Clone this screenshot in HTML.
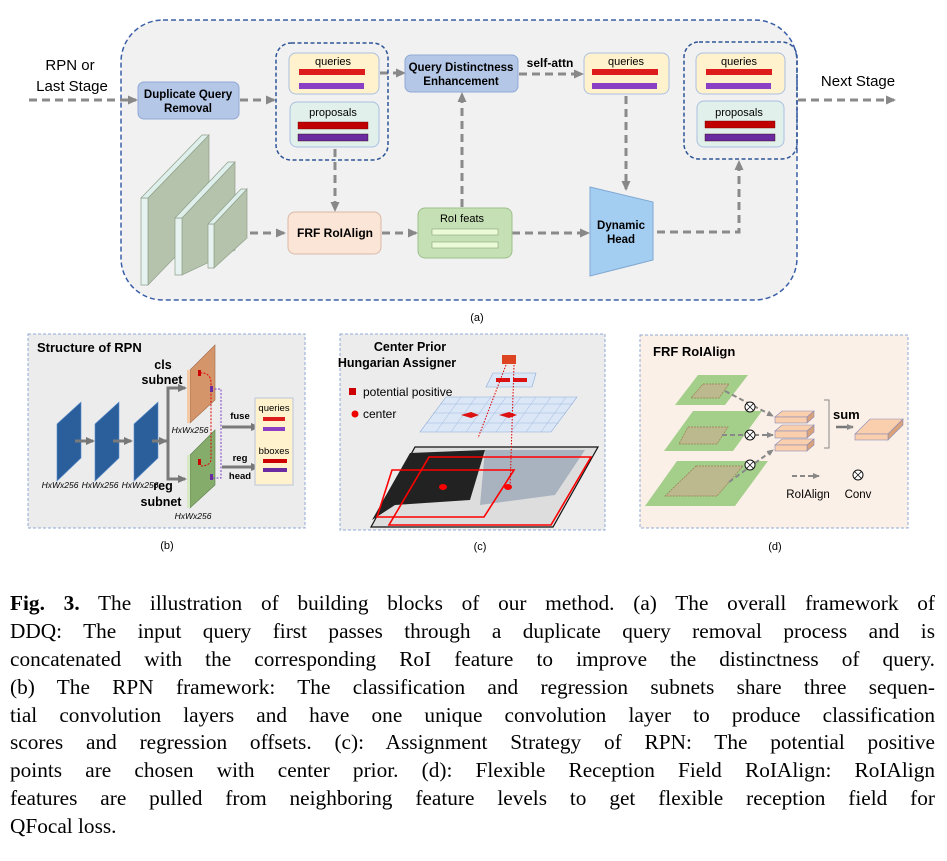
<!DOCTYPE html>
<html><head><meta charset="utf-8"><style>
body{margin:0;width:947px;height:861px;background:#fff;overflow:hidden;position:relative}
svg{position:absolute;left:0;top:0}
.cap{position:absolute;left:10px;width:925px;font-family:"Liberation Serif",serif;font-size:21.3px;color:#000;line-height:27.9px;top:590px}
.cap div{text-align:justify;text-align-last:justify;white-space:nowrap;height:27.9px}
.cap div.l{text-align-last:left}
</style></head><body>
<svg width="947" height="590" viewBox="0 0 947 590" font-family="Liberation Sans, sans-serif">
<defs>
<marker id="a" markerWidth="12" markerHeight="12" refX="8" refY="6" orient="auto" markerUnits="userSpaceOnUse"><path d="M0,1.5L10,6L0,10.5z" fill="#888"/></marker>
<marker id="b" markerWidth="10" markerHeight="10" refX="7" refY="5" orient="auto" markerUnits="userSpaceOnUse"><path d="M0,1L9,5L0,9z" fill="#777"/></marker>
<marker id="c" markerWidth="8" markerHeight="8" refX="6" refY="4" orient="auto" markerUnits="userSpaceOnUse"><path d="M0,1L7,4L0,7z" fill="#888"/></marker>
</defs>
<rect x="121" y="20" width="676" height="280" rx="42" fill="#f1f1f1" stroke="#3b5ea8" stroke-width="1.5" stroke-dasharray="5,3"/>
<text x="70" y="70" font-size="15" text-anchor="middle">RPN or</text>
<text x="72" y="91" font-size="15" text-anchor="middle">Last Stage</text>
<g stroke="#8a8a8a" stroke-width="3" stroke-dasharray="8,5" fill="none" marker-end="url(#a)">
<path d="M29,100H136"/><path d="M240,100H274"/><path d="M335,149V210"/><path d="M250,233H284"/><path d="M382,233H416"/>
<path d="M462,207V94"/><path d="M380,73H404"/><path d="M519,74H582"/><path d="M626,96V189"/><path d="M512,233H588"/>
<path d="M657,232H739V162"/><path d="M798,100H894"/>
</g>
<rect x="138" y="82" width="101" height="37" rx="6" fill="#b4c7e7" stroke="#8fa9d5"/>
<text x="188" y="98" font-size="11.5" font-weight="bold" text-anchor="middle">Duplicate Query</text>
<text x="188" y="112" font-size="11.5" font-weight="bold" text-anchor="middle">Removal</text>
<rect x="276" y="43" width="112" height="117" rx="15" fill="none" stroke="#2f5597" stroke-width="1.5" stroke-dasharray="4,2.5"/>
<rect x="289" y="53" width="90" height="41" rx="7" fill="#fff2cc" stroke="#a9bfe0"/>
<text x="333" y="65" font-size="11" text-anchor="middle">queries</text>
<rect x="299" y="69" width="66" height="6" fill="#dd1c1c"/><rect x="299" y="83" width="65" height="6" fill="#8a3fc4"/>
<rect x="290" y="102" width="89" height="45" rx="7" fill="#e2f0ec" stroke="#a9bfe0"/>
<text x="333" y="116" font-size="11" text-anchor="middle">proposals</text>
<rect x="298" y="122" width="70" height="7" fill="#c00000" stroke="#600" stroke-width=".4"/><rect x="298" y="134" width="70" height="7" fill="#6a2aa0" stroke="#300" stroke-width=".4"/>
<g fill="#b5c3ac" stroke="#8fa08a" stroke-width=".7">
<path d="M148,198L209,135V222L148,285Z"/><path d="M141,198L148,198V285L141,285Z" fill="#e5f2f0"/><path d="M141,198L202,135H209L148,198Z" fill="#dff0ec"/>
<path d="M182,218L235,162V250L182,275Z"/><path d="M175,218H182V275H175Z" fill="#e5f2f0"/><path d="M175,218L228,162H235L182,218Z" fill="#dff0ec"/>
<path d="M214,224L247,189V238L214,268Z"/><path d="M208,224H214V268H208Z" fill="#e5f2f0"/><path d="M208,224L241,189H247L214,224Z" fill="#dff0ec"/>
</g>
<rect x="288" y="212" width="93" height="42" rx="7" fill="#fbe5d6" stroke="#d9b9a6"/>
<text x="335" y="237" font-size="12" font-weight="bold" text-anchor="middle">FRF RoIAlign</text>
<rect x="418" y="208" width="94" height="50" rx="7" fill="#c5e0b4" stroke="#9dbf8c"/>
<text x="462" y="222" font-size="11" text-anchor="middle">RoI feats</text>
<rect x="432" y="229" width="66" height="6" fill="#eafbd8" stroke="#8aa07a" stroke-width=".6"/><rect x="432" y="242" width="66" height="6" fill="#eafbd8" stroke="#8aa07a" stroke-width=".6"/>
<rect x="405" y="55" width="113" height="37" rx="6" fill="#b4c7e7" stroke="#8fa9d5"/>
<text x="461" y="71" font-size="11.5" font-weight="bold" text-anchor="middle">Query  Distinctness</text>
<text x="461" y="85" font-size="11.5" font-weight="bold" text-anchor="middle">Enhancement</text>
<text x="550" y="67" font-size="12" font-weight="bold" text-anchor="middle">self-attn</text>
<rect x="584" y="53" width="85" height="41" rx="7" fill="#fff2cc" stroke="#a9bfe0"/>
<text x="626" y="65" font-size="11" text-anchor="middle">queries</text>
<rect x="592" y="69" width="66" height="6" fill="#dd1c1c"/><rect x="592" y="83" width="65" height="6" fill="#8a3fc4"/>
<path d="M590,187L653,202V260L590,276Z" fill="#a4cdf2" stroke="#7fa8d2"/>
<text x="621" y="229" font-size="11.5" font-weight="bold" text-anchor="middle">Dynamic</text>
<text x="621" y="243" font-size="11.5" font-weight="bold" text-anchor="middle">Head</text>
<rect x="684" y="42" width="113" height="117" rx="15" fill="none" stroke="#2f5597" stroke-width="1.5" stroke-dasharray="4,2.5"/>
<rect x="696" y="53" width="89" height="41" rx="7" fill="#fff2cc" stroke="#a9bfe0"/>
<text x="739" y="65" font-size="11" text-anchor="middle">queries</text>
<rect x="706" y="69" width="66" height="6" fill="#dd1c1c"/><rect x="706" y="83" width="65" height="6" fill="#8a3fc4"/>
<rect x="697" y="101" width="87" height="46" rx="7" fill="#e2f0ec" stroke="#a9bfe0"/>
<text x="739" y="116" font-size="11" text-anchor="middle">proposals</text>
<rect x="705" y="121" width="70" height="7" fill="#c00000" stroke="#600" stroke-width=".4"/><rect x="705" y="134" width="70" height="7" fill="#6a2aa0" stroke="#300" stroke-width=".4"/>
<text x="858" y="86" font-size="15" text-anchor="middle">Next Stage</text>
<text x="477" y="321" font-size="11" text-anchor="middle">(a)</text>

<rect x="28" y="334" width="277" height="194" fill="#ececec" stroke="#8fa9d5" stroke-dasharray="3,2"/>
<text x="37" y="352" font-size="13" font-weight="bold">Structure of RPN</text>
<g fill="#2a5f9c" stroke="#5b8cc8" stroke-width=".6">
<path d="M57,424L81,402V458L57,481Z"/><path d="M95,424L119,402V458L95,481Z"/><path d="M134,424L158,402V458L134,481Z"/>
</g>
<g stroke="#7a7a7a" stroke-width="3" fill="none" marker-end="url(#b)">
<path d="M75,441H93"/><path d="M113,441H131"/><path d="M152,441H166"/>
<path d="M158,441H168V388H185"/><path d="M168,441V479H185"/><path d="M222,427H258"/><path d="M222,467H258"/>
</g>
<path d="M190,370L215,345V400L190,423Z" fill="#d4956a" stroke="#a06a48" stroke-width=".6"/><path d="M187,370H190V423H187Z" fill="#f4c9a6"/>
<path d="M190,455L215,430V485L190,508Z" fill="#86ac6c" stroke="#5c8048" stroke-width=".6"/><path d="M187,455H190V508H187Z" fill="#d6e8c6"/>
<path d="M200,373Q210,372 211,382V460Q210,466 200,466" fill="none" stroke="#d00" stroke-dasharray="2,1.5"/>
<path d="M211,389H221V478H212" fill="none" stroke="#7a3fc4" stroke-dasharray="2,1.5"/>
<rect x="198" y="370" width="3" height="6" fill="#c00"/><rect x="210" y="386" width="3" height="6" fill="#6a2aa0"/>
<rect x="198" y="459" width="3" height="6" fill="#c00"/><rect x="210" y="474" width="3" height="6" fill="#6a2aa0"/>
<text x="163" y="369" font-size="12.5" font-weight="bold" text-anchor="middle">cls</text>
<text x="162" y="384" font-size="12.5" font-weight="bold" text-anchor="middle">subnet</text>
<text x="163" y="490" font-size="12.5" font-weight="bold" text-anchor="middle">reg</text>
<text x="161" y="506" font-size="12.5" font-weight="bold" text-anchor="middle">subnet</text>
<g font-size="8.5" font-style="italic" text-anchor="middle"><text x="60" y="488">HxWx256</text><text x="100" y="488">HxWx256</text><text x="140" y="488">HxWx256</text><text x="190" y="433">HxWx256</text><text x="193" y="519">HxWx256</text></g>
<text x="240" y="419" font-size="9.5" font-weight="bold" text-anchor="middle">fuse</text>
<text x="240" y="461" font-size="9.5" font-weight="bold" text-anchor="middle">reg</text>
<text x="240" y="479" font-size="9.5" font-weight="bold" text-anchor="middle">head</text>
<rect x="255" y="398" width="38" height="87" fill="#fff2cc" stroke="#b9c6de"/>
<text x="274" y="411" font-size="9.5" text-anchor="middle">queries</text>
<rect x="263" y="417" width="22" height="4" fill="#dd1c1c"/><rect x="263" y="427" width="22" height="4" fill="#8a3fc4"/>
<text x="274" y="454" font-size="9.5" text-anchor="middle">bboxes</text>
<rect x="263" y="459" width="24" height="4" fill="#c00"/><rect x="263" y="468" width="24" height="4" fill="#6a2aa0"/>
<text x="167" y="549" font-size="11" text-anchor="middle">(b)</text>

<rect x="340" y="334" width="265" height="196" fill="#ececec" stroke="#8fa9d5" stroke-dasharray="3,2"/>
<text x="410" y="351" font-size="12.5" font-weight="bold" text-anchor="middle">Center Prior</text>
<text x="397" y="367" font-size="12.5" font-weight="bold" text-anchor="middle">Hungarian Assigner</text>
<rect x="349" y="388" width="7" height="7" fill="#c00"/><text x="363" y="396" font-size="12">potential positive</text>
<circle cx="355" cy="414" r="3.5" fill="#e00"/><text x="363" y="418" font-size="12">center</text>
<rect x="502" y="355" width="14" height="9" fill="#d42" />
<path d="M493,373H536L532,387H486Z" fill="#dbe7f6" stroke="#8aaad8" stroke-width=".6"/>
<path d="M446,397H577L551,432H420Z" fill="#dbe7f6" stroke="#8aaad8" stroke-width=".6"/>
<g stroke="#9db7df" stroke-width=".5">
<path d="M440,404H573M433,413H566M426,423H559M461,397L436,432M476,397L451,432M491,397L466,432M506,397L481,432M521,397L496,432M536,397L511,432M551,397L526,432M566,397L541,432"/>
</g>
<path d="M496,378h14v4h-14zM513,378h14v4h-14z" fill="#d11"/>
<path d="M461,415l10,-3l8,3l-8,3z M499,415l10,-3l8,3l-8,3z" fill="#d11"/>
<path d="M415,447H598L553,527H371Z" fill="#ddd" stroke="#111" stroke-width="1.2"/>
<path d="M410,453L485,450L470,500L395,505L372,520Z" fill="#222"/>
<path d="M485,450H585L555,495L480,505Z" fill="#a9b3bf"/>
<path d="M392,470H514L484,517H377Z" fill="none" stroke="#f00" stroke-width="1.6"/>
<path d="M429,457H591L551,525H389Z" fill="none" stroke="#f00" stroke-width="1.6"/>
<path d="M506,365L478,438M514,365L510,488" stroke="#d00" stroke-width="1" stroke-dasharray="1.5,1.5"/>
<ellipse cx="443" cy="487" rx="4" ry="3" fill="#f00"/><ellipse cx="508" cy="487" rx="4" ry="3" fill="#f00"/>
<text x="480" y="550" font-size="11" text-anchor="middle">(c)</text>

<rect x="640" y="335" width="268" height="193" fill="#fbf0e7" stroke="#8fa9d5" stroke-dasharray="3,2"/>
<text x="653" y="356" font-size="13" font-weight="bold">FRF RoIAlign</text>
<g fill="#a3cf8a"><path d="M698,375H748L725,405H675Z"/><path d="M693,411H762L733,451H664Z"/><path d="M677,461H768L735,506H645Z"/></g>
<g fill="#bcb98e" stroke="#9c7a52" stroke-width=".7" stroke-dasharray="2,1"><path d="M703,384H729L719,398H691Z"/><path d="M688,427H728L717,444H679Z"/><path d="M696,466H743L717,496H665Z"/></g>
<g stroke="#888" stroke-width="2" stroke-dasharray="5,3" fill="none" marker-end="url(#c)"><path d="M725,391L773,416"/><path d="M722,435L773,435"/><path d="M729,482L773,450"/><path d="M792,476H819"/></g>
<g fill="#fff" stroke="#111" stroke-width="1"><circle cx="750" cy="407" r="5"/><circle cx="750" cy="435" r="5"/><circle cx="750" cy="465" r="5"/><circle cx="858" cy="475" r="5"/></g>
<g stroke="#111" stroke-width=".8"><path d="M746.5,403.5l7,7m0,-7l-7,7M746.5,431.5l7,7m0,-7l-7,7M746.5,461.5l7,7m0,-7l-7,7M854.5,471.5l7,7m0,-7l-7,7"/></g>
<g fill="#f9cfae" stroke="#8a8ab8" stroke-width=".6">
<path d="M775,445H807L814,439H782Z"/><path d="M807,445V451L814,445V439Z" fill="#d9a27a"/><rect x="775" y="445" width="32" height="6"/>
<path d="M775,431H807L814,425H782Z"/><path d="M807,431V438L814,432V425Z" fill="#d9a27a"/><rect x="775" y="431" width="32" height="7"/>
<path d="M775,417H807L814,411H782Z"/><path d="M807,417V423L814,417V411Z" fill="#d9a27a"/><rect x="775" y="417" width="32" height="6"/>
<path d="M855,434H888L903,419H870Z"/><path d="M888,434V440L903,425V419Z" fill="#d9a27a"/><rect x="855" y="434" width="33" height="6"/>
</g>
<path d="M824,400H829V448H824" fill="none" stroke="#888" stroke-width="1"/>
<text x="833" y="419" font-size="13" font-weight="bold">sum</text>
<path d="M836,427H853" stroke="#777" stroke-width="2.5" marker-end="url(#c)"/>
<text x="808" y="498" font-size="11.5" text-anchor="middle">RoIAlign</text>
<text x="858" y="498" font-size="11.5" text-anchor="middle">Conv</text>
<text x="775" y="550" font-size="11" text-anchor="middle">(d)</text>
</svg>
<div class="cap">
<div><b>Fig. 3.</b> The illustration of building blocks of our method. (a) The overall framework of</div>
<div>DDQ: The input query first passes through a duplicate query removal process and is</div>
<div>concatenated with the corresponding RoI feature to improve the distinctness of query.</div>
<div>(b) The RPN framework: The classification and regression subnets share three sequen-</div>
<div>tial convolution layers and have one unique convolution layer to produce classification</div>
<div>scores and regression offsets. (c): Assignment Strategy of RPN: The potential positive</div>
<div>points are chosen with center prior. (d): Flexible Reception Field RoIAlign: RoIAlign</div>
<div>features are pulled from neighboring feature levels to get flexible reception field for</div>
<div class="l">QFocal loss.</div>
</div>
</body></html>
